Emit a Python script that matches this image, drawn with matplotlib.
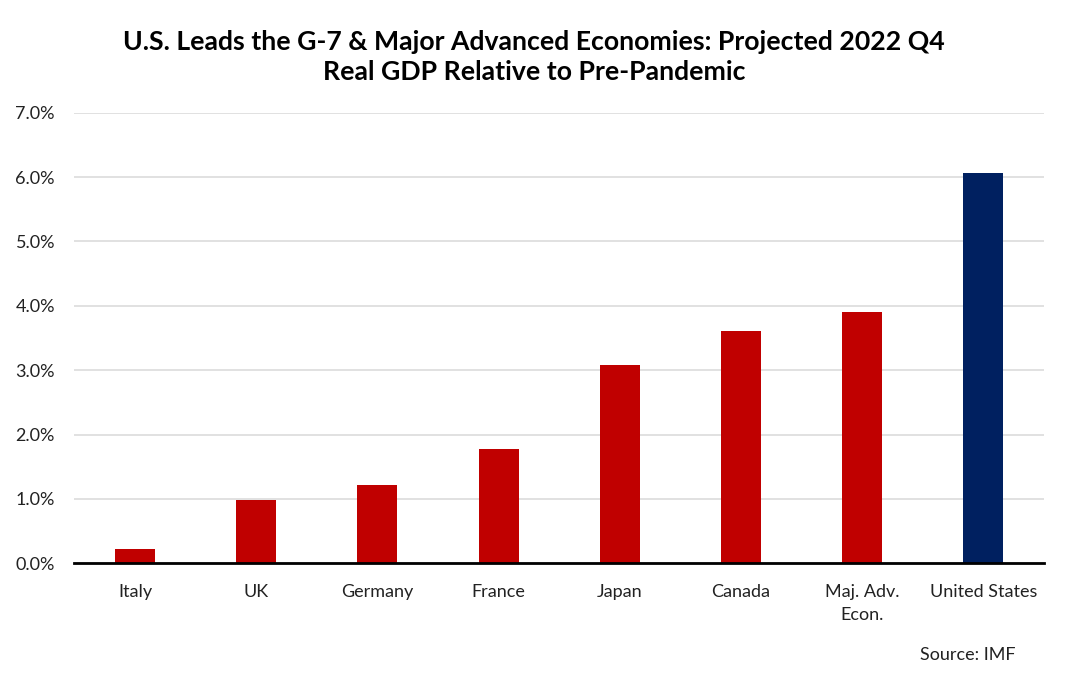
import matplotlib.pyplot as plt
import numpy as np

plt.rcParams['font.family'] = ['Lato', 'DejaVu Sans']

# projected 2022 Q4 real GDP vs pre-pandemic (%)
countries = ["Italy", "UK", "Germany", "France", "Japan", "Canada", "Maj. Adv.\nEcon.", "United States"]
gdp_change = [0.22, 0.99, 1.22, 1.78, 3.08, 3.61, 3.90, 6.06]
bar_colors = ["#C00000"] * 7 + ["#002060"]

fig = plt.figure(figsize=(10.68, 6.86), dpi=100)
ax = fig.add_axes([0.0697, 0.1789, 0.9079, 0.6568])

x = np.arange(len(countries))
ax.bar(x, gdp_change, width=0.33, color=bar_colors, zorder=3)

ax.set_xlim(-0.5, len(countries) - 0.5)
ax.set_ylim(0, 7)
ax.set_yticks(np.arange(0, 8, 1))
ax.set_yticklabels([f"{v:.1f}%" for v in np.arange(0, 8, 1)])
ax.set_xticks(x)
ax.set_xticklabels(countries, linespacing=1.5)

ax.yaxis.grid(True, color="#D9D9D9", linewidth=1.1, zorder=0)
for s in ["top", "right", "left"]:
    ax.spines[s].set_visible(False)
ax.spines["bottom"].set_linewidth(2)
ax.spines["bottom"].set_zorder(4)
ax.tick_params(axis="both", length=0, labelsize=13, colors="#222222")
ax.tick_params(axis="y", pad=14)
ax.tick_params(axis="x", pad=15)

fig.text(0.5, 0.917, "U.S. Leads the G-7 & Major Advanced Economies: Projected 2022 Q4\nReal GDP Relative to Pre-Pandemic",
         ha="center", va="center", fontsize=19.2, fontweight="bold", linespacing=1.32)
fig.text(0.951, 0.045, "Source: IMF", ha="right", va="center", fontsize=13, color="#222222")

fig.savefig("out.png", dpi=100)
